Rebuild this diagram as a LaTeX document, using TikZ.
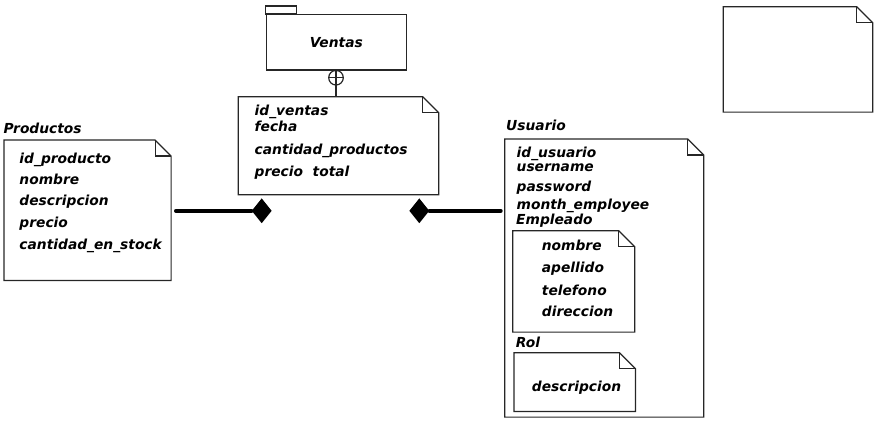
\documentclass[tikz,border=0pt]{standalone}
\usepackage{fontspec}
\setmainfont{DejaVu Sans}
\usetikzlibrary{shapes.geometric}

\begin{document}
\begin{tikzpicture}[
    x=1pt, y=-1pt,
    every node/.style={font=\fontsize{13.8}{16}\selectfont\bfseries\itshape},
    nota/.style={rectangle, inner sep=0pt, anchor=north west},
    titulo/.style={anchor=base west, inner sep=0pt},
    campo/.style={anchor=base west, inner sep=0pt},
    borde/.style={line width=1.2pt, draw=black!85},
    rombo/.style={diamond, fill=black, inner sep=0pt,
                  minimum width=20pt, minimum height=25pt},
    conector/.style={line width=4pt, line cap=round}
]
\useasboundingbox (0,0) rectangle (878,445);

% paquete Ventas
\node[draw, borde, anchor=north west, minimum width=140pt, minimum height=55.3pt] (ventas) at (265.7,14) {Ventas};
\draw[borde] (ventas.north west) rectangle ++(31,-8);
\node[circle, draw, borde, minimum size=14.6pt, inner sep=0pt] (mas) at (336,77.7) {};
\draw[borde] (mas.north) -- (mas.south) (mas.west) -- (mas.east);

% notas
\node[nota, minimum width=166.7pt, minimum height=140pt] (prodnota) at (4,140) {};
\node[nota, minimum width=200pt, minimum height=97.6pt] (ventasnota) at (238.3,96.7) {};
\node[nota, minimum width=198.6pt, minimum height=277.7pt] (usuarionota) at (504.7,139) {};
\node[nota, minimum width=121.6pt, minimum height=101pt] (empleadonota) at (512.7,230.7) {};
\node[nota, minimum width=121pt, minimum height=58.3pt] (rolnota) at (514,352.7) {};
\node[nota, minimum width=149pt, minimum height=105pt] (vacianota) at (723.3,6.7) {};

\foreach \n in {prodnota, ventasnota, usuarionota, empleadonota, rolnota, vacianota}{
  \draw[borde] (\n.north west) -- ([xshift=-16pt]\n.north east) -- ([yshift=-16pt]\n.north east)
      -- (\n.south east) -- (\n.south west) -- cycle;
  \draw[borde] ([xshift=-16pt]\n.north east) -- ([xshift=-16pt,yshift=-16pt]\n.north east)
      -- ([yshift=-16pt]\n.north east);
}
\draw[borde] (mas.south) -- (mas.south |- ventasnota.north);

% titulos
\node[titulo] (prodtitulo) at (3.3,133.3) {Productos};
\node[titulo] (usuariotitulo) at (506,130.7) {Usuario};
\node[titulo] (empleadotitulo) at (516,224) {Empleado};
\node[titulo] (roltitulo) at (515.7,347.7) {Rol};

% campos
\foreach \t/\y [count=\i] in {id\_producto/163, nombre/184, descripcion/205.7,
                              precio/227.7, cantidad\_en\_stock/249.5}
  \node[campo] (prod\i) at (19.3,\y) {\t};
\foreach \t/\y [count=\i] in {id\_ventas/115, fecha/131.7, cantidad\_productos/154,
                              precio\ \ total/176}
  \node[campo] (ventas\i) at (254.5,\y) {\t};
\foreach \t/\y [count=\i] in {id\_usuario/157.3, username/171.7, password/191,
                              month\_employee/209.3}
  \node[campo] (usuario\i) at (516.5,\y) {\t};
\foreach \t/\y [count=\i] in {nombre/250.7, apellido/272.7, telefono/295, direccion/316.7}
  \node[campo] (empleado\i) at (541.7,\y) {\t};
\node[campo] (rol1) at (531.7,391.7) {descripcion};

% relaciones
\node[rombo] (rombo1) at (261.7,210.8) {};
\node[rombo] (rombo2) at (419.3,210.8) {};
\coordinate (prodfin) at (176,210.8);
\coordinate (usuariofin) at (500.7,210.8);
\draw[conector] (prodfin) -- (rombo1);
\draw[conector] (rombo2) -- (usuariofin);
\end{tikzpicture}
\end{document}
